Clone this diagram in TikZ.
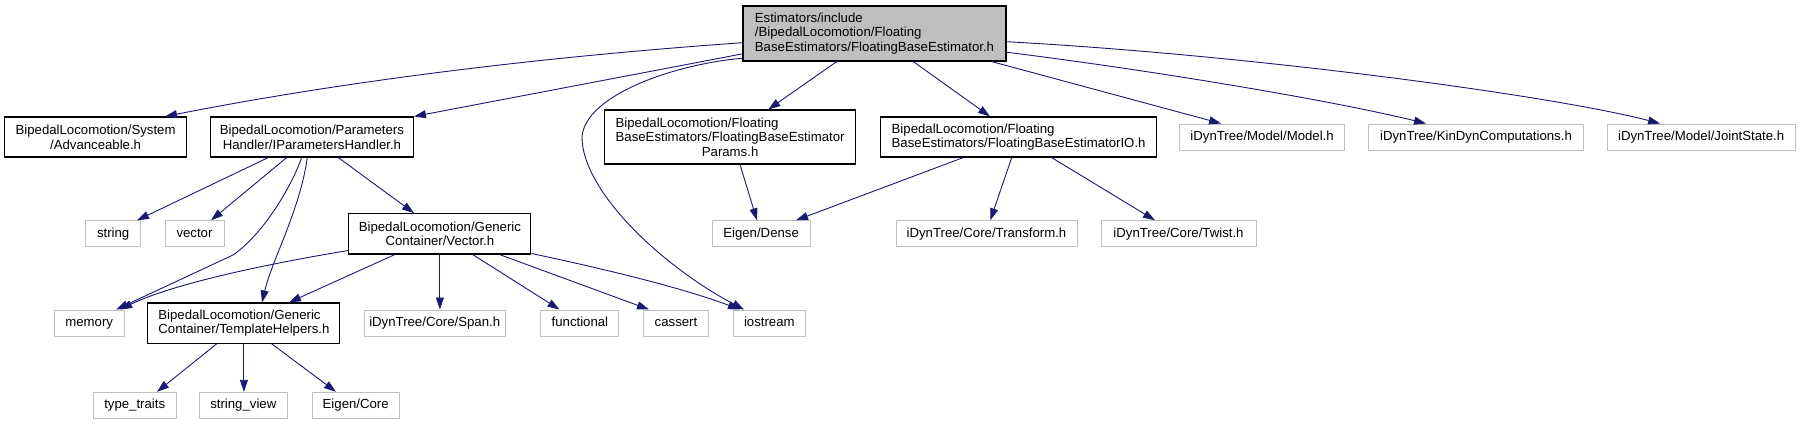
\documentclass[tikz,border=0pt]{standalone}
\usepackage{fontspec}
\setmainfont{Liberation Sans}
\usepackage{xcolor}
\usepackage{tikz}
\usetikzlibrary{arrows.meta,calc}

\definecolor{edgeblue}{HTML}{191970}
\definecolor{boxgray}{HTML}{BFBFBF}
% last line of a label is centred, the others stay left
\newcommand{\lastln}[1]{\hskip 0pt plus 1filll#1\hskip 0pt plus 1filll\null}

\begin{document}
\begin{tikzpicture}[x=1pt, y=-1pt,
  every node/.append style={font=\fontsize{13.2pt}{14.7pt}\selectfont},
  incbox/.style={draw=black, line width=1.1pt, fill=white, align=left,
    inner xsep=4pt, inner ysep=2pt},
  rootbox/.style={incbox, fill=boxgray},
  sysbox/.style={draw=boxgray, line width=1pt, minimum height=26pt,
    text height=9.5pt, text depth=2.8pt, inner xsep=4pt},
  arr/.style={edgeblue, line width=0.9pt, -{Triangle[length=12pt,width=8pt]}},
]
  \useasboundingbox (0,0) rectangle (1801,424);

  % top file
  \node[rootbox, minimum width=263pt, minimum height=55pt] (root) at (874.5,33.5)
    {Estimators/include\\/BipedalLocomotion/Floating\\\lastln{BaseEstimators/FloatingBaseEstimator.h}};

  % first level
  \node[incbox, minimum width=182pt, minimum height=40pt] (adv) at (95.6,137)
    {BipedalLocomotion/System\\\lastln{/Advanceable.h}};
  \node[incbox, minimum width=203pt, minimum height=40pt] (iph) at (311.9,137)
    {BipedalLocomotion/Parameters\\\lastln{Handler/IParametersHandler.h}};
  \node[incbox, minimum width=251pt, minimum height=54pt] (fbep) at (730.1,137)
    {BipedalLocomotion/Floating\\BaseEstimators/FloatingBaseEstimator\\\lastln{Params.h}};
  \node[incbox, minimum width=276pt, minimum height=40pt] (fbeio) at (1018.6,137)
    {BipedalLocomotion/Floating\\\lastln{BaseEstimators/FloatingBaseEstimatorIO.h}};
  \node[sysbox, minimum width=165pt] (model)  at (1262.1,137) {iDynTree/Model/Model.h};
  \node[sysbox, minimum width=215pt] (kindyn) at (1476,137)   {iDynTree/KinDynComputations.h};
  \node[sysbox, minimum width=188pt] (joint)  at (1701.1,137) {iDynTree/Model/JointState.h};

  % second level
  \node[sysbox, minimum width=55pt]  (str)    at (113.2,233.8) {string};
  \node[sysbox, minimum width=59pt]  (vec)    at (194.5,233.8) {vector};
  \node[incbox, minimum width=182pt, minimum height=40.3pt] (vech) at (439.9,233.8)
    {BipedalLocomotion/Generic\\\lastln{Container/Vector.h}};
  \node[sysbox, minimum width=98pt]  (dense)  at (761.1,233.8) {Eigen/Dense};
  \node[sysbox, minimum width=181pt] (transf) at (986.5,233.8) {iDynTree/Core/Transform.h};
  \node[sysbox, minimum width=155pt] (twist)  at (1178.5,233.8) {iDynTree/Core/Twist.h};

  % third level
  \node[sysbox, minimum width=70pt]  (mem)  at (89.2,323) {memory};
  \node[incbox, minimum width=192pt, minimum height=40.3pt] (tmpl) at (243.9,323.1)
    {BipedalLocomotion/Generic\\\lastln{Container/TemplateHelpers.h}};
  \node[sysbox, minimum width=141pt] (span) at (434.7,323) {iDynTree/Core/Span.h};
  \node[sysbox, minimum width=78pt]  (func) at (579.9,323) {functional};
  \node[sysbox, minimum width=65.5pt] (cass) at (676,323)  {cassert};
  \node[sysbox, minimum width=72pt]  (iost) at (769.3,323) {iostream};

  % fourth level
  \node[sysbox, minimum width=83pt] (ttraits) at (134.7,405.3) {type\_traits};
  \node[sysbox, minimum width=88pt] (sview)   at (243.3,405.3) {string\_view};
  \node[sysbox, minimum width=87pt] (ecore)   at (355.7,405.3) {Eigen/Core};

  % edges of the top file
  \draw[arr] ([yshift=-9.2pt]root.west) .. controls (543,56.7) and (345,81) .. ([xshift=69.4pt]adv.north);
  \draw[arr] ([yshift=7.7pt]root.south west) -- (iph.north east);
  \draw[arr] ([yshift=3.3pt]root.south west) .. controls (675,64) and (585,95) .. (582,137)
    .. controls (582,190) and (660,265) .. ([xshift=-25.3pt]iost.north);
  \draw[arr] ([xshift=-37.8pt]root.south) -- ([xshift=38.2pt]fbep.north);
  \draw[arr] ([xshift=38.8pt]root.south) -- ([xshift=-28.6pt]fbeio.north);
  \draw[arr] ([xshift=-15pt]root.south east) -- ([xshift=-41pt]model.north);
  \draw[arr] ([yshift=9.3pt]root.south east) .. controls (1150,70) and (1330,100) .. ([xshift=-50pt]kindyn.north);
  \draw[arr] ([yshift=-8.2pt]root.east) .. controls (1250,55) and (1550,95) .. ([xshift=-41pt]joint.north);

  % parameters handler
  \draw[arr] ([xshift=-43.6pt]iph.south) -- ([xshift=23.8pt]str.north);
  \draw[arr] ([xshift=-25.2pt]iph.south) -- ([xshift=16.5pt]vec.north);
  \draw[arr] ([xshift=-10.2pt]iph.south) .. controls (290,190) and (262,235) .. (233,255)
    -- ([xshift=27pt]mem.north);
  \draw[arr] ([xshift=-4.6pt]iph.south) .. controls (300,210) and (272,260) .. ([xshift=18.1pt]tmpl.north);
  \draw[arr] ([xshift=26.4pt]iph.south) -- ([xshift=-25.9pt]vech.north);

  % vector
  \draw[arr] ([yshift=4pt]vech.south west) .. controls (260,265) and (170,285) .. ([xshift=31pt]mem.north);
  \draw[arr] ([xshift=-44.9pt]vech.south) -- ([xshift=45.1pt]tmpl.north);
  \draw[arr] (vech.south) -- (vech.south |- span.north);
  \draw[arr] ([xshift=32.7pt]vech.south) -- ([xshift=-20.4pt]func.north);
  \draw[arr] ([xshift=59.5pt]vech.south) -- ([xshift=-27pt]cass.north);
  \draw[arr] ([yshift=1pt]vech.south east) .. controls (600,268) and (680,287) .. ([xshift=-29.3pt]iost.north);

  % estimator headers
  \draw[arr] ([xshift=9.9pt]fbep.south) -- ([xshift=-4.1pt]dense.north);
  \draw[arr] ([xshift=-55.3pt]fbeio.south) -- ([xshift=34.9pt]dense.north);
  \draw[arr] ([xshift=-6.9pt]fbeio.south) -- ([xshift=3.8pt]transf.north);
  \draw[arr] ([xshift=33pt]fbeio.south) -- ([xshift=-23.5pt]twist.north);

  % template helpers
  \draw[arr] ([xshift=-27.2pt]tmpl.south) -- ([xshift=22.3pt]ttraits.north);
  \draw[arr] (tmpl.south) -- (tmpl.south |- sview.north);
  \draw[arr] ([xshift=27.8pt]tmpl.south) -- ([xshift=-19.7pt]ecore.north);
\end{tikzpicture}
\end{document}
